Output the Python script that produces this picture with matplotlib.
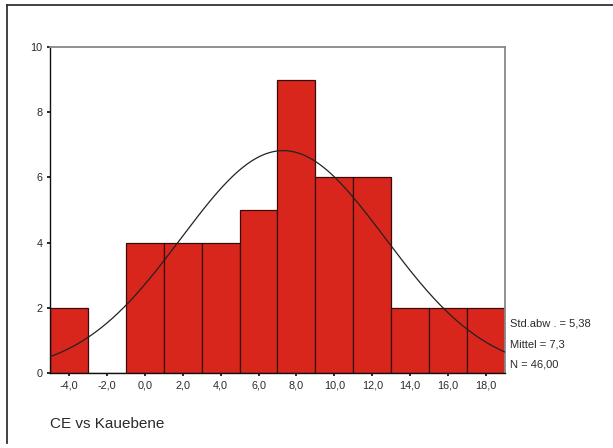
import numpy as np
import matplotlib
matplotlib.use("Agg")
import matplotlib.pyplot as plt
from matplotlib.lines import Line2D

bin_centers = [-4, -2, 0, 2, 4, 6, 8, 10, 12, 14, 16, 18]
counts = [2, 0, 4, 4, 4, 5, 9, 6, 6, 2, 2, 2]
xtick_vals = [-4, -2, 0, 2, 4, 6, 8, 10, 12, 14, 16, 18]
xtick_labels = ["-4,0", "-2,0", "0,0", "2,0", "4,0", "6,0", "8,0", "10,0", "12,0", "14,0", "16,0", "18,0"]
ytick_vals = [0, 2, 4, 6, 8, 10]
mean_val = 7.3
std_val = 5.38
n_val = 46
bin_width = 2
stats_lines = ["Std.abw . = 5,38", "Mittel = 7,3", "N = 46,00"]
title = "CE vs Kauebene"

plt.rcParams['font.family'] = ['Liberation Sans', 'DejaVu Sans']

fig = plt.figure(figsize=(6.13, 4.48), dpi=100)
fig.patch.set_facecolor('white')

# outer frame (top and left lines)
fig.add_artist(Line2D([7/613, 1.0], [1 - 5/448, 1 - 5/448], transform=fig.transFigure, color='#333333', lw=1.3))
fig.add_artist(Line2D([7/613, 7/613], [1 - 5/448, 1 - 443/448], transform=fig.transFigure, color='#333333', lw=1.3))

ax = fig.add_axes([50/613, (448-373)/448, 455/613, 326/448])
ax.bar(bin_centers, counts, width=bin_width, color='#d9261c', edgecolor='#3a0a08', linewidth=0.9, zorder=2)

xs = np.linspace(-5, 19, 400)
ys = n_val * bin_width / (std_val * np.sqrt(2 * np.pi)) * np.exp(-0.5 * ((xs - mean_val) / std_val) ** 2)
ax.plot(xs, ys, color='#222222', lw=0.9, zorder=3)

ax.set_xlim(-5, 19)
ax.set_ylim(0, 10)
ax.set_xticks(xtick_vals)
ax.set_xticklabels(xtick_labels)
ax.set_yticks(ytick_vals)
ax.tick_params(axis='both', length=2.5, width=1.4, labelsize=7.8, colors='#2a2a2a', pad=3)
for s in ['left', 'bottom']:
    ax.spines[s].set_color('#111111')
    ax.spines[s].set_linewidth(1.0)
for s in ['top', 'right']:
    ax.spines[s].set_color('#888888')
    ax.spines[s].set_linewidth(1.3)

for i, t in enumerate(stats_lines):
    fig.text(510/613, 1 - (324 + 20*i)/448, t, fontsize=8, color='#2a2a2a', va='center', ha='left')

fig.text(50/613, 1 - 424/448, title, fontsize=11, color='#2a2a2a', va='center', ha='left')

fig.savefig('out.png', dpi=100, facecolor='white')
